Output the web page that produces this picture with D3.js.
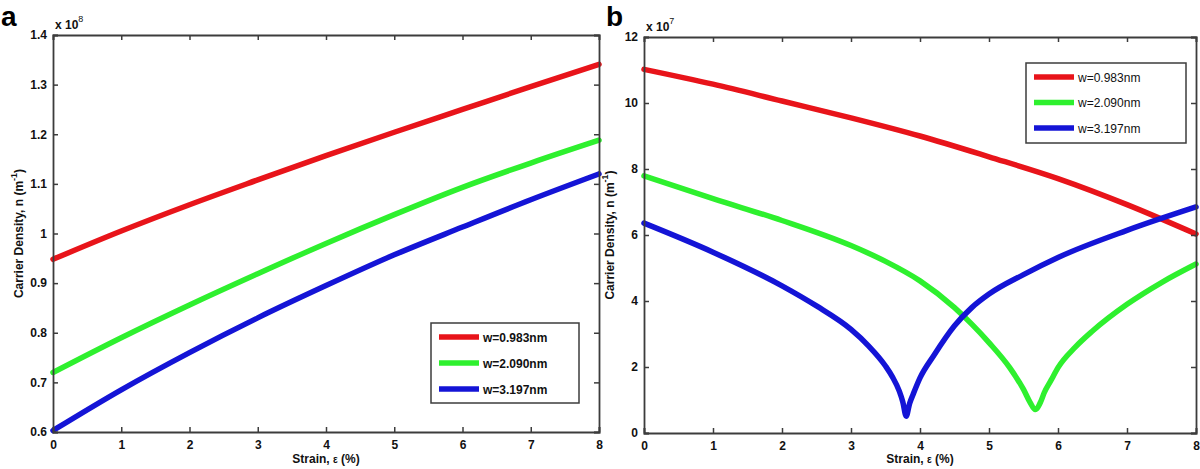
<!DOCTYPE html>
<html><head><meta charset="utf-8">
<script src="https://cdn.jsdelivr.net/npm/d3@7"></script>
<style>body{margin:0;background:#fff}svg{display:block}text{font-family:"Liberation Sans",Arial,sans-serif}</style>
</head><body>
<svg id="c" width="1200" height="469"></svg>
<script>
const seriesNames = ["w=0.983nm","w=2.090nm","w=3.197nm"];
const seriesColors = ["#e8141a","#2ef02e","#1414d6"];
const xTicks = [0,1,2,3,4,5,6,7,8];
const yTicksA = [0.6,0.7,0.8,0.9,1.0,1.1,1.2,1.3,1.4];
const yTicksB = [0,2,4,6,8,10,12];
// Panel a (x 10^8)
const aStrain = [0,1,2,3,4,5,6,7,8];
const aRed   = [0.948,1.005,1.058,1.108,1.157,1.204,1.250,1.296,1.341];
const aGreen = [0.720,0.790,0.856,0.919,0.980,1.038,1.093,1.142,1.188];
const aBlue  = [0.603,0.685,0.760,0.830,0.895,0.957,1.013,1.068,1.120];
// Panel b (x 10^7)
const bRedX   = [0,1,2,3,4,5,6,7,8];
const bRed    = [11.02,10.57,10.06,9.55,9.0,8.37,7.71,6.92,6.03];
const bGreenX = [0,1,2,3,3.5,4,4.5,4.75,5,5.3,5.5,5.6,5.67,5.75,5.8,5.9,6,6.25,6.5,7,7.5,8];
const bGreen  = [7.79,7.10,6.44,5.68,5.20,4.61,3.80,3.30,2.74,1.98,1.32,0.91,0.71,0.95,1.22,1.60,1.98,2.60,3.09,3.90,4.56,5.12];
const bBlueX  = [0,1,2,2.5,3,3.25,3.5,3.6,3.7,3.75,3.8,3.85,3.9,4,4.2,4.5,4.75,5,5.5,6,7,8];
const bBlue   = [6.36,5.48,4.46,3.85,3.14,2.65,2.03,1.70,1.27,0.95,0.51,0.90,1.17,1.67,2.35,3.25,3.80,4.21,4.80,5.32,6.14,6.85];

const svg = d3.select("#c");
const axisCol = "#3c3c3c";

function panel(cfg){
  const {L,R,T,B,yDom,yTicks,fmt,series,letter,expo,letterX,legend,legendBold} = cfg;
  const x = d3.scaleLinear().domain([0,8]).range([L,R]);
  const y = d3.scaleLinear().domain(yDom).range([B,T]);
  const g = svg.append("g");
  const line = d3.line().x(d=>x(d[0])).y(d=>y(d[1])).curve(d3.curveMonotoneX);
  series.forEach((s,i)=>{
    g.append("path").datum(s.x.map((v,k)=>[v,s.y[k]]))
      .attr("d",line).attr("fill","none").attr("stroke",seriesColors[i])
      .attr("stroke-width",5.5).attr("stroke-linejoin","round").attr("stroke-linecap","round");
  });
  const bottom = d3.axisBottom(x).tickValues(xTicks).tickSize(-5).tickPadding(8).tickFormat(d3.format("d"));
  const top = d3.axisTop(x).tickValues(xTicks).tickSize(-5).tickFormat("");
  const left = d3.axisLeft(y).tickValues(yTicks).tickSize(-5).tickPadding(6).tickFormat(fmt);
  const right = d3.axisRight(y).tickValues(yTicks).tickSize(-5).tickFormat("");
  const ax = [[bottom,`translate(0,${B})`],[top,`translate(0,${T})`],[left,`translate(${L},0)`],[right,`translate(${R},0)`]];
  ax.forEach(([a,t])=>{
    const ag = svg.append("g").attr("transform",t).call(a);
    ag.select(".domain").attr("stroke",axisCol).attr("stroke-width",1.8);
    ag.selectAll(".tick line").attr("stroke",axisCol).attr("stroke-width",1.5);
    ag.selectAll(".tick text").attr("fill","#111").attr("font-size",12).attr("font-weight","bold");
  });
  const xl = svg.append("text").attr("x",(L+R)/2).attr("y",463).attr("text-anchor","middle")
    .attr("font-size",12).attr("font-weight","bold").attr("fill","#111");
  xl.append("tspan").text("Strain, ");
  xl.append("tspan").attr("font-size",10).text("ε");
  xl.append("tspan").text(" (%)");
  const yl = svg.append("text").attr("transform",`translate(${L-30},${(T+B)/2}) rotate(-90)`)
    .attr("text-anchor","middle").attr("font-size",12).attr("font-weight","bold").attr("fill","#111");
  yl.append("tspan").text("Carrier Density, n (m");
  yl.append("tspan").attr("font-size",9).attr("dy",-6).text("-1");
  yl.append("tspan").attr("dy",6).text(")");
  const ex = svg.append("text").attr("x",L+2).attr("y",T-6).attr("font-size",12).attr("font-weight","bold").attr("fill","#111");
  ex.append("tspan").text("x 10");
  ex.append("tspan").attr("font-size",9).attr("dy",-7).attr("font-weight","normal").text(expo);
  svg.append("text").attr("x",letterX).attr("y",25.5).attr("font-size",28).attr("font-weight","bold").attr("fill","#000").text(letter);
  const lg = svg.append("g");
  lg.append("rect").attr("x",legend.x).attr("y",legend.y).attr("width",legend.w).attr("height",legend.h)
    .attr("fill","#fff").attr("stroke",axisCol).attr("stroke-width",1.5);
  seriesNames.forEach((n,i)=>{
    const yy = legend.y + 14 + i*legend.step;
    lg.append("line").attr("x1",legend.x+8).attr("x2",legend.x+48).attr("y1",yy).attr("y2",yy)
      .attr("stroke",seriesColors[i]).attr("stroke-width",5.5);
    lg.append("text").attr("x",legend.x+52).attr("y",yy+4.5).attr("font-size",12)
      .attr("font-weight",legendBold?"bold":"normal").attr("fill","#111").text(n);
  });
}

const fmtA = d => d3.format("~g")(+d.toFixed(1));
panel({L:53,R:599,T:35,B:432,yDom:[0.6,1.4],yTicks:yTicksA,fmt:fmtA,
  series:[{x:aStrain,y:aRed},{x:aStrain,y:aGreen},{x:aStrain,y:aBlue}],
  letter:"a",expo:"8",letterX:1,legend:{x:431,y:323,w:148,h:80,step:26},legendBold:true});
panel({L:644,R:1196,T:37,B:433,yDom:[0,12],yTicks:yTicksB,fmt:d3.format("d"),
  series:[{x:bRedX,y:bRed},{x:bGreenX,y:bGreen},{x:bBlueX,y:bBlue}],
  letter:"b",expo:"7",letterX:606,legend:{x:1026,y:63,w:160,h:80,step:25.5},legendBold:false});
</script>
</body></html>
